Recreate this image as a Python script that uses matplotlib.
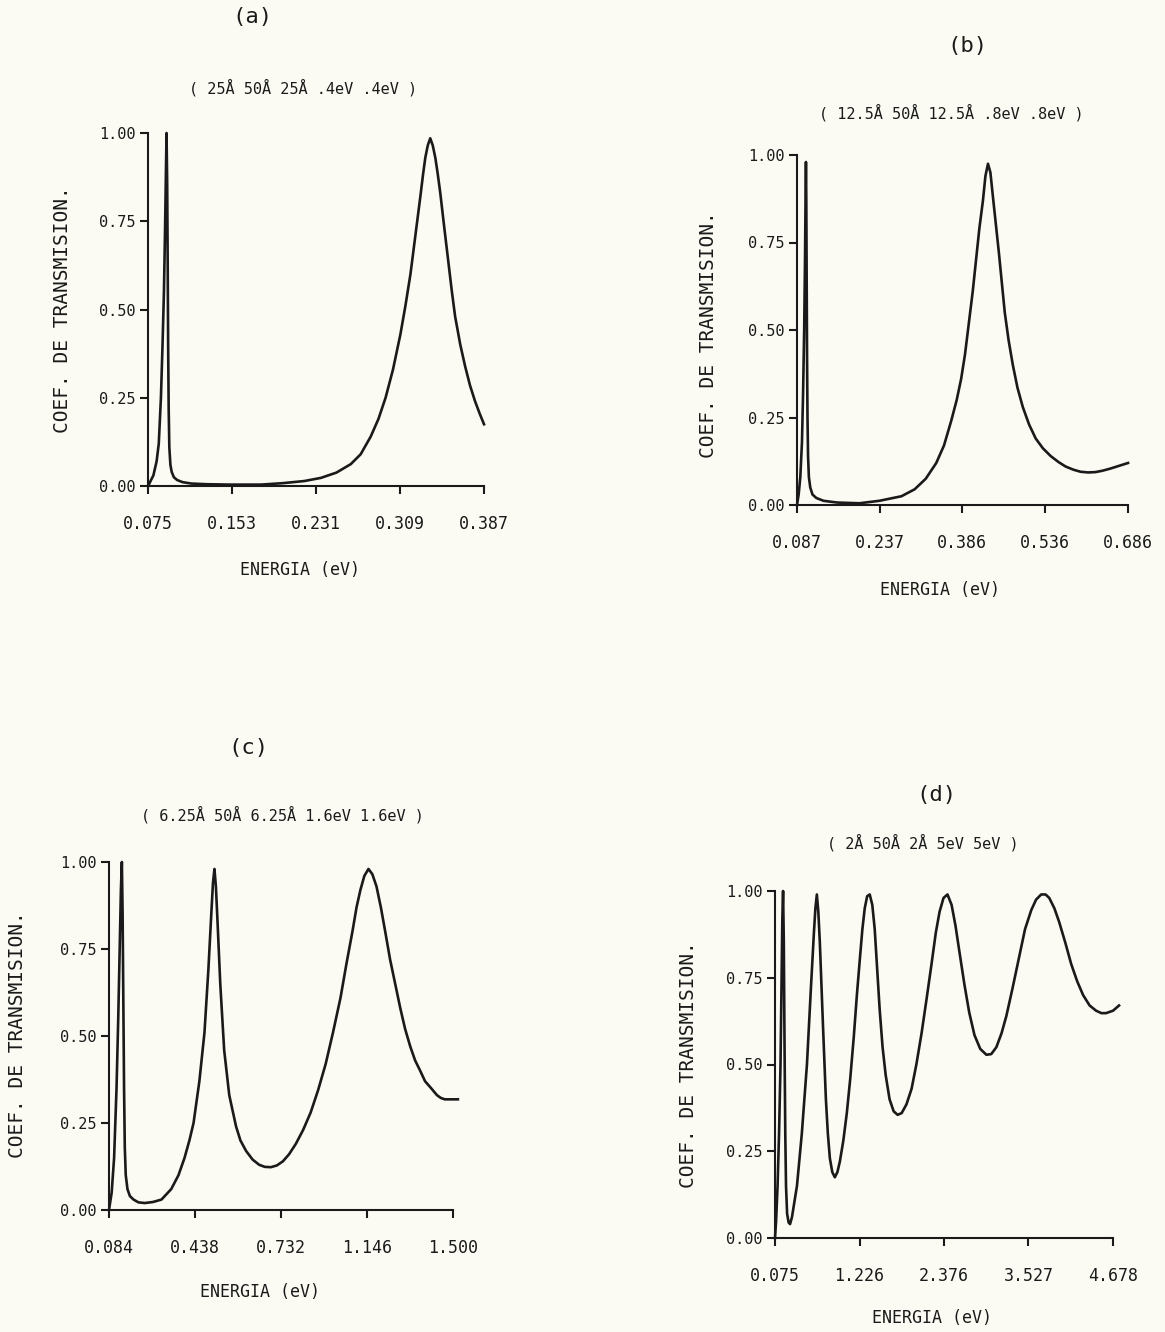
import matplotlib
matplotlib.use("Agg")
import matplotlib.pyplot as plt

plt.rcParams['font.family'] = ['DejaVu Sans Mono']

# panel (a)
e_a = [0.0752, 0.0775, 0.080, 0.083, 0.085, 0.087, 0.0885, 0.0898, 0.0908, 0.0916, 0.0922,
       0.0928, 0.0933, 0.0937, 0.0942, 0.0948, 0.0958, 0.097, 0.099, 0.102, 0.107, 0.115,
       0.13, 0.15, 0.18, 0.20, 0.22, 0.2356, 0.25, 0.2633, 0.2725, 0.2818, 0.289, 0.2956,
       0.3025, 0.3094, 0.314, 0.3187, 0.3233, 0.3279, 0.3305, 0.3325, 0.3348, 0.3371, 0.3394,
       0.3418, 0.344, 0.3464, 0.35, 0.3537, 0.357, 0.3602, 0.365, 0.3694, 0.374, 0.3787,
       0.383, 0.387]
t_a = [0.0, 0.015, 0.03, 0.07, 0.12, 0.25, 0.40, 0.55, 0.72, 0.88, 1.0,
       0.86, 0.62, 0.40, 0.22, 0.11, 0.06, 0.04, 0.025, 0.017, 0.011, 0.007,
       0.005, 0.004, 0.004, 0.008, 0.014, 0.023, 0.038, 0.062, 0.09, 0.14, 0.19, 0.25,
       0.33, 0.43, 0.51, 0.60, 0.71, 0.82, 0.885, 0.93, 0.965, 0.985, 0.965,
       0.93, 0.885, 0.83, 0.735, 0.64, 0.555, 0.48, 0.40, 0.34, 0.285, 0.24,
       0.205, 0.175]

# panel (b)
e_b = [0.087, 0.090, 0.093, 0.096, 0.098, 0.100, 0.1015, 0.1025, 0.1032, 0.1038, 0.1045,
       0.1052, 0.106, 0.107, 0.1085, 0.111, 0.115, 0.122, 0.135, 0.16, 0.20, 0.236, 0.276,
       0.300, 0.320, 0.339, 0.353, 0.366, 0.376, 0.384, 0.391, 0.398, 0.405, 0.411, 0.417,
       0.4235, 0.428, 0.4326, 0.437, 0.4416, 0.447, 0.4524, 0.458, 0.463, 0.470, 0.4776,
       0.486, 0.4956, 0.507, 0.519, 0.532, 0.546, 0.560, 0.573, 0.587, 0.600, 0.614, 0.627,
       0.640, 0.654, 0.670, 0.686]
t_b = [0.0, 0.03, 0.08, 0.18, 0.32, 0.50, 0.70, 0.88, 0.98, 0.88, 0.65,
       0.42, 0.25, 0.14, 0.08, 0.05, 0.03, 0.02, 0.012, 0.007, 0.005, 0.012, 0.025,
       0.045, 0.075, 0.12, 0.17, 0.24, 0.30, 0.36, 0.43, 0.52, 0.61, 0.70, 0.79,
       0.87, 0.94, 0.975, 0.95, 0.88, 0.80, 0.72, 0.63, 0.55, 0.47, 0.40,
       0.335, 0.28, 0.23, 0.19, 0.162, 0.14, 0.123, 0.11, 0.101, 0.095, 0.093, 0.094,
       0.098, 0.104, 0.112, 0.12]

# panel (c)
e_c = [0.084, 0.095, 0.105, 0.115, 0.122, 0.128, 0.133, 0.137, 0.140, 0.143, 0.146, 0.149,
       0.153, 0.160, 0.170, 0.185, 0.205, 0.231, 0.265, 0.30, 0.34, 0.37, 0.395, 0.415,
       0.432, 0.456, 0.477, 0.493, 0.505, 0.512, 0.518, 0.524, 0.530, 0.542, 0.558, 0.579,
       0.607, 0.625, 0.648, 0.675, 0.702, 0.725, 0.75, 0.775, 0.80, 0.825, 0.853, 0.883,
       0.914, 0.945, 0.976, 1.006, 1.037, 1.062, 1.086, 1.103, 1.119, 1.135, 1.152, 1.168,
       1.185, 1.203, 1.221, 1.241, 1.262, 1.283, 1.303, 1.324, 1.344, 1.365, 1.385, 1.41,
       1.434, 1.45, 1.466, 1.52]
t_c = [0.0, 0.05, 0.15, 0.35, 0.55, 0.75, 0.92, 1.0, 0.85, 0.60, 0.35, 0.18,
       0.10, 0.06, 0.04, 0.03, 0.022, 0.02, 0.023, 0.03, 0.06, 0.10, 0.15, 0.20,
       0.25, 0.37, 0.51, 0.69, 0.85, 0.94, 0.98, 0.93, 0.84, 0.65, 0.46, 0.33,
       0.24, 0.20, 0.17, 0.145, 0.13, 0.124, 0.123, 0.128, 0.14, 0.16, 0.19, 0.23,
       0.28, 0.345, 0.42, 0.51, 0.61, 0.71, 0.80, 0.87, 0.92, 0.96, 0.98, 0.965,
       0.93, 0.87, 0.80, 0.72, 0.65, 0.58, 0.52, 0.47, 0.43, 0.40, 0.37, 0.35,
       0.33, 0.322, 0.318, 0.318]

# panel (d)
e_d = [0.075, 0.09, 0.11, 0.13, 0.15, 0.165, 0.175, 0.185, 0.195, 0.205, 0.215, 0.225, 0.24,
       0.26, 0.28, 0.306, 0.374, 0.44, 0.51, 0.564, 0.605, 0.625, 0.645, 0.665, 0.686, 0.727,
       0.768, 0.795, 0.822, 0.855, 0.89, 0.925, 0.958, 1.005, 1.053, 1.10, 1.148, 1.19, 1.229,
       1.265, 1.297, 1.33, 1.365, 1.40, 1.433, 1.465, 1.50, 1.54, 1.582, 1.635, 1.691, 1.745,
       1.80, 1.865, 1.935, 2.0, 2.071, 2.14, 2.207, 2.265, 2.316, 2.37, 2.424, 2.48, 2.533,
       2.59, 2.655, 2.72, 2.791, 2.87, 2.954, 3.02, 3.09, 3.16, 3.226, 3.31, 3.40, 3.48,
       3.565, 3.63, 3.70, 3.76, 3.81, 3.88, 3.946, 4.03, 4.108, 4.19, 4.271, 4.36, 4.448,
       4.52, 4.583, 4.678, 4.76]
t_d = [0.0, 0.05, 0.15, 0.30, 0.50, 0.75, 0.92, 1.0, 0.85, 0.55, 0.30, 0.15, 0.07,
       0.045, 0.04, 0.06, 0.15, 0.30, 0.50, 0.72, 0.88, 0.95, 0.99, 0.94, 0.85, 0.62,
       0.40, 0.30, 0.23, 0.19, 0.175, 0.19, 0.22, 0.28, 0.36, 0.46, 0.58, 0.70, 0.80,
       0.89, 0.95, 0.985, 0.99, 0.96, 0.89, 0.78, 0.66, 0.55, 0.47, 0.40, 0.365, 0.355,
       0.36, 0.385, 0.43, 0.50, 0.59, 0.69, 0.79, 0.88, 0.94, 0.98, 0.99, 0.96, 0.90,
       0.82, 0.73, 0.65, 0.585, 0.545, 0.528, 0.53, 0.55, 0.59, 0.64, 0.72, 0.81, 0.89,
       0.945, 0.975, 0.99, 0.99, 0.98, 0.95, 0.91, 0.85, 0.79, 0.74, 0.70, 0.67, 0.655,
       0.648, 0.648, 0.655, 0.67]

xt_a = [0.075, 0.153, 0.231, 0.309, 0.387]
xl_a = ['0.075', '0.153', '0.231', '0.309', '0.387']
xt_b = [0.087, 0.237, 0.386, 0.536, 0.686]
xl_b = ['0.087', '0.237', '0.386', '0.536', '0.686']
xt_c = [0.084, 0.438, 0.792, 1.146, 1.500]
xl_c = ['0.084', '0.438', '0.732', '1.146', '1.500']
xt_d = [0.075, 1.226, 2.376, 3.527, 4.678]
xl_d = ['0.075', '1.226', '2.376', '3.527', '4.678']
yt = [0.0, 0.25, 0.5, 0.75, 1.0]
yl = ['0.00', '0.25', '0.50', '0.75', '1.00']

panels = [
    ('(a)', '( 25Å 50Å 25Å .4eV .4eV )', e_a, t_a, xt_a, xl_a),
    ('(b)', '( 12.5Å 50Å 12.5Å .8eV .8eV )', e_b, t_b, xt_b, xl_b),
    ('(c)', '( 6.25Å 50Å 6.25Å 1.6eV 1.6eV )', e_c, t_c, xt_c, xl_c),
    ('(d)', '( 2Å 50Å 2Å 5eV 5eV )', e_d, t_d, xt_d, xl_d),
]

W, H = 1165, 1332
# axes box in pixels: left, right, bottom, top
boxes = [(148, 484, 486, 133), (797, 1128, 505, 155), (109, 453, 1210, 862), (775, 1113, 1238, 891)]
# label positions in pixels: letter, subtitle, xlabel, ylabel
labpos = [
    ((252, 17), (303, 88), (300, 570), (63, 310)),
    ((967, 46), (951, 113), (940, 590), (708, 335)),
    ((248, 748), (282, 815), (260, 1292), (18, 1035)),
    ((936, 795), (923, 843), (932, 1318), (688, 1065)),
]

paper = '#fbfbf4'
ink = '#1a1a1a'
fig = plt.figure(figsize=(W / 100, H / 100), dpi=100, facecolor=paper)

for (letter, sub, e, t, xt, xl), (l, r, b, tp), pos in zip(panels, boxes, labpos):
    ax = fig.add_axes([l / W, 1 - b / H, (r - l) / W, (b - tp) / H])
    ax.set_facecolor('none')
    ax.plot(e, t, color=ink, lw=1.9, clip_on=False, solid_joinstyle='round')
    ax.set_xlim(xt[0], xt[-1])
    ax.set_ylim(0, 1)
    ax.set_xticks(xt)
    ax.set_xticklabels(xl)
    ax.set_yticks(yt)
    ax.set_yticklabels(yl)
    for s in ['top', 'right']:
        ax.spines[s].set_visible(False)
    for s in ['left', 'bottom']:
        ax.spines[s].set_linewidth(1.5)
        ax.spines[s].set_color(ink)
    ax.tick_params(axis='x', direction='out', length=6, width=1.5, pad=15, labelsize=12, colors=ink)
    ax.tick_params(axis='y', direction='out', length=6, width=1.5, pad=3, labelsize=11, colors=ink)

    (lx, ly), (sx, sy), (xx, xy), (yx, yy) = pos
    fig.text(lx / W, 1 - ly / H, letter, ha='center', va='center', fontsize=16, color=ink)
    fig.text(sx / W, 1 - sy / H, sub, ha='center', va='center', fontsize=11, color=ink)
    fig.text(xx / W, 1 - xy / H, 'ENERGIA (eV)', ha='center', va='center', fontsize=12, color=ink)
    fig.text(yx / W, 1 - yy / H, 'COEF. DE TRANSMISION.', ha='center', va='center',
             rotation=90, fontsize=14, color=ink)

fig.savefig('out.png', dpi=100, facecolor=paper)
